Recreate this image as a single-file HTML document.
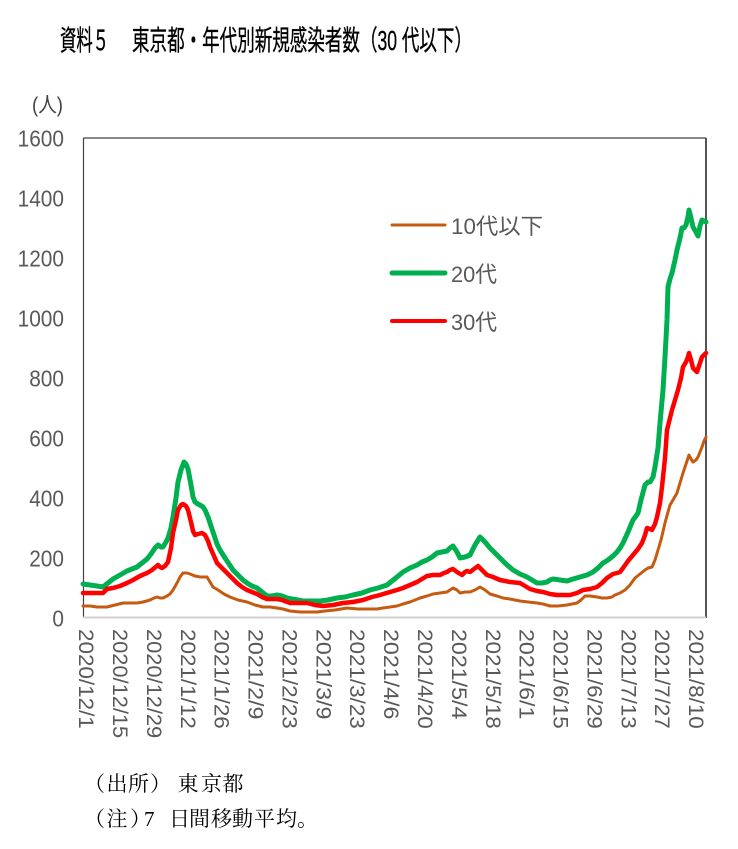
<!DOCTYPE html>
<html>
<head>
<meta charset="utf-8">
<style>
html,body{margin:0;padding:0;background:#fff;}
svg{display:block;}
</style>
</head>
<body>
<svg width="738" height="849" viewBox="0 0 738 849" xmlns="http://www.w3.org/2000/svg">
<rect width="738" height="849" fill="#fff"/>

<!-- Title -->
<text x="60" y="50" font-family="'Liberation Sans','Noto Sans CJK JP',sans-serif" font-size="28" fill="#000" stroke="#000" stroke-width="0.35" textLength="49" lengthAdjust="spacingAndGlyphs">資料５</text>
<text x="132" y="50" font-family="'Liberation Sans','Noto Sans CJK JP',sans-serif" font-size="28" fill="#000" stroke="#000" stroke-width="0.35" textLength="340" lengthAdjust="spacingAndGlyphs">東京都・年代別新規感染者数（30 代以下）</text>

<!-- unit -->
<text x="32" y="112" font-family="'Liberation Sans','Noto Sans CJK JP',sans-serif" font-size="21" fill="#404040" textLength="31" lengthAdjust="spacingAndGlyphs">(人)</text>

<!-- Y axis labels -->
<g font-family="'Liberation Sans',sans-serif" font-size="23.5" fill="#595959">
<text x="17.6" y="146.7" textLength="46.4" lengthAdjust="spacingAndGlyphs">1600</text>
<text x="17.6" y="206.7" textLength="46.4" lengthAdjust="spacingAndGlyphs">1400</text>
<text x="17.6" y="266.7" textLength="46.4" lengthAdjust="spacingAndGlyphs">1200</text>
<text x="17.6" y="326.7" textLength="46.4" lengthAdjust="spacingAndGlyphs">1000</text>
<text x="29.2" y="386.7" textLength="34.8" lengthAdjust="spacingAndGlyphs">800</text>
<text x="29.2" y="446.7" textLength="34.8" lengthAdjust="spacingAndGlyphs">600</text>
<text x="29.2" y="506.7" textLength="34.8" lengthAdjust="spacingAndGlyphs">400</text>
<text x="29.2" y="566.7" textLength="34.8" lengthAdjust="spacingAndGlyphs">200</text>
<text x="52.4" y="626.7" textLength="11.6" lengthAdjust="spacingAndGlyphs">0</text>
</g>

<!-- Plot frame -->
<line x1="83.5" y1="138" x2="706" y2="138" stroke="#404040" stroke-width="1.2"/>
<line x1="83.5" y1="138" x2="83.5" y2="618" stroke="#404040" stroke-width="1.2"/>
<line x1="706" y1="138" x2="706" y2="618" stroke="#404040" stroke-width="1.8"/>
<line x1="83" y1="617.5" x2="706" y2="617.5" stroke="#d0d0d0" stroke-width="2"/>

<!-- Series: 10代以下 (orange) -->
<polyline fill="none" stroke="#C55A11" stroke-width="3" stroke-linejoin="round" stroke-linecap="round" points="
83,606 90,606 97,607 103,607 107,607 115,605 123,603 130,603 137,603 143,602 150,600 154,598 157,597 160,598 163,598 167,596 170,594 173,590 177,583 180,577 183,573 187,573 190,574 195,576 200,577 204,577 207,577 210,582 213,587 218,590 224,594 230,597 238,600 247,602 255,605 263,607 270,607 277,608 283,609 290,611 300,612 310,612 317,612 325,611 335,610 347,608 358,609 370,609 377,609 383,608 390,607 397,606 403,604 410,602 415,600 420,598 427,596 433,594 440,593 447,592 450,590 453,588 457,590 460,593 465,592 470,592 475,590 480,587 485,590 490,594 497,596 503,598 510,599 520,601 528,602 537,603 543,604 550,606 558,606 567,605 572,604 577,603 581,600 585,596 590,596 597,597 602,598 607,598 612,597 615,595 620,593 625,590 630,585 635,578 640,574 645,570 648,568 652,567 655,560 658,550 661,540 665,523 668,512 670,505 673,500 677,493 680,483 683,473 686,464 689,455 691,459 693,462 696,460 698,457 700,452 702,447 704,441 706,437"/>

<!-- Series: 20代 (green) -->
<polyline fill="none" stroke="#00B050" stroke-width="5" stroke-linejoin="round" stroke-linecap="round" points="
83,584 90,585 97,586 103,587 108,583 113,579 120,575 127,571 132,569 137,567 142,563 147,559 151,554 155,548 158,545 161,547 163,547 166,542 168,538 171,528 173,517 176,498 178,482 181,470 184,462 186,464 188,469 191,485 193,497 195,502 198,504 200,505 203,507 205,510 208,517 210,523 214,535 217,544 220,550 225,558 229,564 233,570 238,575 243,580 247,583 252,586 257,588 262,592 267,596 272,596 277,595 282,596 287,598 292,599 298,600 303,601 310,601 320,601 328,600 337,598 345,597 353,595 362,593 370,590 378,588 387,585 392,581 397,577 403,572 410,568 417,565 422,562 427,560 432,557 437,553 442,552 447,551 450,548 453,546 457,552 460,558 465,557 470,555 475,545 480,537 485,542 490,548 495,553 500,558 506,564 513,570 520,574 527,577 532,580 537,583 542,583 547,582 550,580 553,579 560,580 567,581 573,579 580,577 587,575 593,572 598,568 603,563 608,560 613,556 617,552 620,548 623,543 628,532 633,520 636,516 638,513 641,500 645,485 648,482 650,482 653,477 655,467 658,448 660,423 663,390 665,357 667,320 668,287 670,279 672,273 675,260 677,250 680,238 682,228 684,228 686,225 688,217 689,210 691,218 693,227 696,232 698,236 700,226 702,220 704,221 706,222"/>

<!-- Series: 30代 (red) -->
<polyline fill="none" stroke="#FF0000" stroke-width="4.5" stroke-linejoin="round" stroke-linecap="round" points="
83,593 90,593 97,593 103,593 107,589 113,588 120,586 127,583 133,580 140,576 147,573 152,570 158,565 160,567 162,568 165,566 168,562 171,548 173,533 176,520 178,510 181,505 183,504 186,506 188,510 191,522 193,531 195,535 198,534 202,533 205,535 208,541 210,547 214,556 217,563 222,568 227,573 232,578 237,583 242,587 247,590 252,592 257,594 262,597 267,599 272,599 277,599 282,600 290,603 298,603 307,603 315,605 323,606 333,605 343,603 353,602 363,600 372,597 380,595 390,592 397,590 403,588 410,585 417,582 422,579 427,576 433,575 440,575 444,573 447,572 450,570 453,569 457,572 462,575 465,572 467,571 470,572 474,569 478,566 482,570 487,575 493,577 500,580 510,582 520,583 525,586 530,589 537,591 543,592 550,594 557,595 564,595 570,595 577,593 583,590 590,589 597,587 602,583 607,578 613,574 617,573 620,572 623,568 628,561 633,555 638,549 642,543 645,535 647,528 650,529 652,530 655,524 657,517 660,503 662,487 665,458 667,430 670,418 672,410 675,400 678,390 681,378 683,367 686,362 688,357 689,353 691,360 693,368 695,370 697,372 700,363 702,357 704,355 706,353"/>

<!-- Legend -->
<line x1="392" y1="225" x2="445" y2="225" stroke="#C55A11" stroke-width="3" stroke-linecap="round"/>
<line x1="392" y1="273" x2="445" y2="273" stroke="#00B050" stroke-width="5" stroke-linecap="round"/>
<line x1="392" y1="321" x2="445" y2="321" stroke="#FF0000" stroke-width="4" stroke-linecap="round"/>
<g font-family="'Liberation Sans','Noto Sans CJK JP',sans-serif" font-size="22" fill="#595959">
<text x="451" y="234" textLength="92" lengthAdjust="spacingAndGlyphs">10代以下</text>
<text x="451" y="282" textLength="46" lengthAdjust="spacingAndGlyphs">20代</text>
<text x="451" y="330" textLength="46" lengthAdjust="spacingAndGlyphs">30代</text>
</g>

<!-- X axis labels (rotated) -->
<g font-family="'Liberation Sans',sans-serif" font-size="21" fill="#595959">
<text transform="translate(86.7,629) rotate(90)" x="0" y="7.5" textLength="99.8" lengthAdjust="spacingAndGlyphs">2020/12/1</text>
<text transform="translate(120.6,629) rotate(90)" x="0" y="7.5" textLength="109.2" lengthAdjust="spacingAndGlyphs">2020/12/15</text>
<text transform="translate(154.5,629) rotate(90)" x="0" y="7.5" textLength="109.2" lengthAdjust="spacingAndGlyphs">2020/12/29</text>
<text transform="translate(188.3,629) rotate(90)" x="0" y="7.5" textLength="99.8" lengthAdjust="spacingAndGlyphs">2021/1/12</text>
<text transform="translate(222.2,629) rotate(90)" x="0" y="7.5" textLength="99.8" lengthAdjust="spacingAndGlyphs">2021/1/26</text>
<text transform="translate(256.1,629) rotate(90)" x="0" y="7.5" textLength="90.4" lengthAdjust="spacingAndGlyphs">2021/2/9</text>
<text transform="translate(290.0,629) rotate(90)" x="0" y="7.5" textLength="99.8" lengthAdjust="spacingAndGlyphs">2021/2/23</text>
<text transform="translate(323.9,629) rotate(90)" x="0" y="7.5" textLength="90.4" lengthAdjust="spacingAndGlyphs">2021/3/9</text>
<text transform="translate(357.7,629) rotate(90)" x="0" y="7.5" textLength="99.8" lengthAdjust="spacingAndGlyphs">2021/3/23</text>
<text transform="translate(391.6,629) rotate(90)" x="0" y="7.5" textLength="90.4" lengthAdjust="spacingAndGlyphs">2021/4/6</text>
<text transform="translate(425.5,629) rotate(90)" x="0" y="7.5" textLength="99.8" lengthAdjust="spacingAndGlyphs">2021/4/20</text>
<text transform="translate(459.4,629) rotate(90)" x="0" y="7.5" textLength="90.4" lengthAdjust="spacingAndGlyphs">2021/5/4</text>
<text transform="translate(493.3,629) rotate(90)" x="0" y="7.5" textLength="99.8" lengthAdjust="spacingAndGlyphs">2021/5/18</text>
<text transform="translate(527.1,629) rotate(90)" x="0" y="7.5" textLength="90.4" lengthAdjust="spacingAndGlyphs">2021/6/1</text>
<text transform="translate(561.0,629) rotate(90)" x="0" y="7.5" textLength="99.8" lengthAdjust="spacingAndGlyphs">2021/6/15</text>
<text transform="translate(594.9,629) rotate(90)" x="0" y="7.5" textLength="99.8" lengthAdjust="spacingAndGlyphs">2021/6/29</text>
<text transform="translate(628.8,629) rotate(90)" x="0" y="7.5" textLength="99.8" lengthAdjust="spacingAndGlyphs">2021/7/13</text>
<text transform="translate(662.7,629) rotate(90)" x="0" y="7.5" textLength="99.8" lengthAdjust="spacingAndGlyphs">2021/7/27</text>
<text transform="translate(696.5,629) rotate(90)" x="0" y="7.5" textLength="99.8" lengthAdjust="spacingAndGlyphs">2021/8/10</text>
</g>

<!-- Footnotes -->
<g font-family="'Liberation Serif','Noto Serif CJK SC',serif" font-size="21" fill="#000">
<text x="84 106.5 128 150 177.5 201 222.5" y="791">（出所）東京都</text>
<text x="84 106.5 130 144 169 189 211 232 254 276 297" y="826">（注）7日間移動平均。</text>
</g>
</svg>
</body>
</html>
